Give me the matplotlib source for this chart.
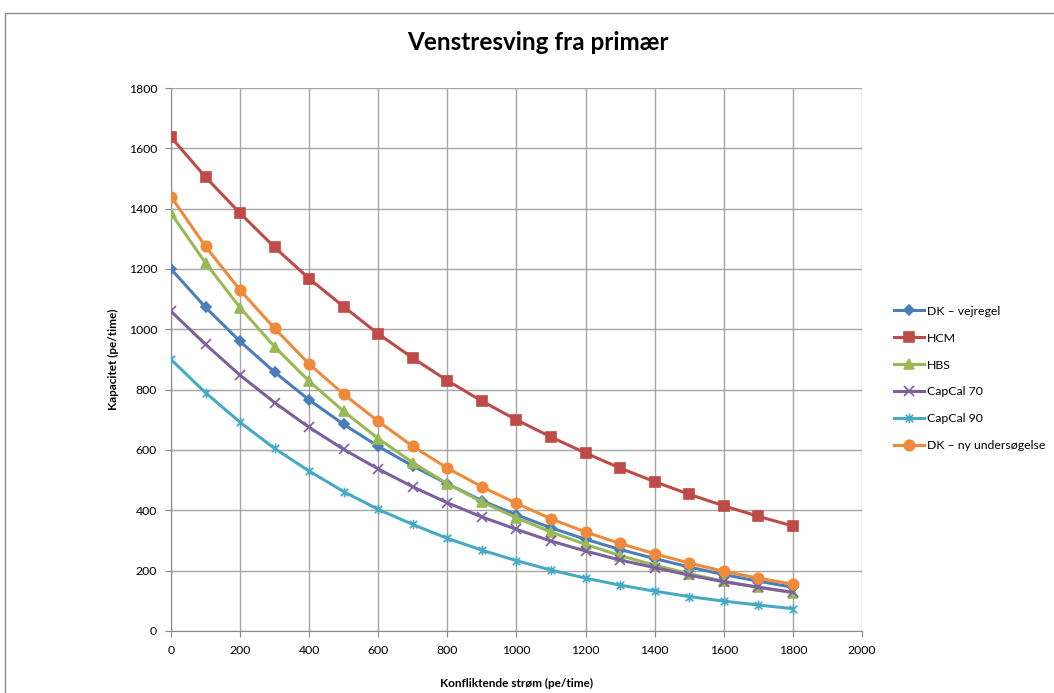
import numpy as np
import matplotlib
matplotlib.use("Agg")
import matplotlib.pyplot as plt
from matplotlib.path import Path
from matplotlib.patches import Rectangle

plt.rcParams['font.family'] = ['Lato', 'DejaVu Sans']

# Data
flow = [0, 100, 200, 300, 400, 500, 600, 700, 800, 900, 1000,
        1100, 1200, 1300, 1400, 1500, 1600, 1700, 1800]
dk_vejregel = [1200, 1073, 960, 858, 766, 685, 612, 547, 488, 432, 385,
               342, 304, 270, 240, 212, 187, 165, 145]
hcm = [1637, 1505, 1385, 1272, 1168, 1075, 985, 905, 830, 762, 700,
       643, 590, 540, 495, 453, 415, 380, 348]
hbs = [1385, 1220, 1072, 942, 828, 728, 638, 558, 488, 428, 375,
       328, 287, 250, 218, 190, 165, 145, 127]
capcal70 = [1060, 950, 848, 757, 675, 602, 537, 478, 425, 378, 337,
            298, 265, 235, 210, 185, 163, 145, 128]
capcal90 = [900, 790, 692, 605, 530, 462, 403, 353, 307, 268, 233,
            202, 175, 152, 132, 114, 99, 86, 74]
dk_ny = [1440, 1275, 1130, 1003, 885, 785, 695, 612, 540, 478, 423,
         372, 328, 290, 256, 225, 198, 175, 155]

labels = ["DK \u2013 vejregel", "HCM", "HBS", "CapCal 70", "CapCal 90",
          "DK \u2013 ny unders\u00f8gelse"]
series = [dk_vejregel, hcm, hbs, capcal70, capcal90, dk_ny]
colors = ["#4A7EBB", "#BE4B48", "#98B954", "#7D60A0", "#46AAC5", "#EE8A3C"]

# asterisk marker like Excel (x plus vertical bar)
ast = Path([(-1, -1), (1, 1), (-1, 1), (1, -1), (0, -1.3), (0, 1.3)],
           [Path.MOVETO, Path.LINETO, Path.MOVETO, Path.LINETO,
            Path.MOVETO, Path.LINETO])
markers = ["D", "s", "^", "x", ast, "o"]
msizes = [5, 7.5, 7, 7, 7, 7.5]

fig = plt.figure(figsize=(10.54, 6.93), dpi=100)
ax = fig.add_axes([0.1622, 0.0895, 0.6556, 0.7835])

for vals, lab, col, mk, ms in zip(series, labels, colors, markers, msizes):
    ax.plot(flow, vals, color=col, lw=2.2, marker=mk, ms=ms,
            mfc=col, mec=col, mew=1.2, label=lab, zorder=3)

ax.set_xlim(0, 2000)
ax.set_ylim(0, 1800)
ax.set_xticks(np.arange(0, 2001, 200))
ax.set_yticks(np.arange(0, 1801, 200))
ax.grid(True, color="#a6a6a6", lw=1.0)
ax.tick_params(labelsize=8.8, colors="#000000", length=4, color="#888888",
               pad=6)
for s in ["top", "right"]:
    ax.spines[s].set_visible(False)
for s in ["left", "bottom"]:
    ax.spines[s].set_color("#888888")

ax.set_xlabel("Konfliktende str\u00f8m (pe/time)", fontsize=8.5,
              fontweight="bold", labelpad=16)
ax.set_ylabel("Kapacitet (pe/time)", fontsize=8.5, fontweight="bold",
              labelpad=7)

fig.text(0.51, 0.938, "Venstresving fra prim\u00e6r", fontsize=17.5,
         fontweight="bold", ha="center", va="center")

ax.legend(loc="center left", bbox_to_anchor=(1.03, 0.465), frameon=False,
          fontsize=8.8, handlelength=2.5, handletextpad=0.2,
          labelspacing=1.3)

# outer chart border
fig.patches.append(Rectangle((5 / 1054, -0.05), 1.1, 1 - 13 / 693 + 0.05,
                             transform=fig.transFigure, fill=False,
                             edgecolor="#8c8c8c", lw=1.0))

fig.savefig("out.png", dpi=100)
